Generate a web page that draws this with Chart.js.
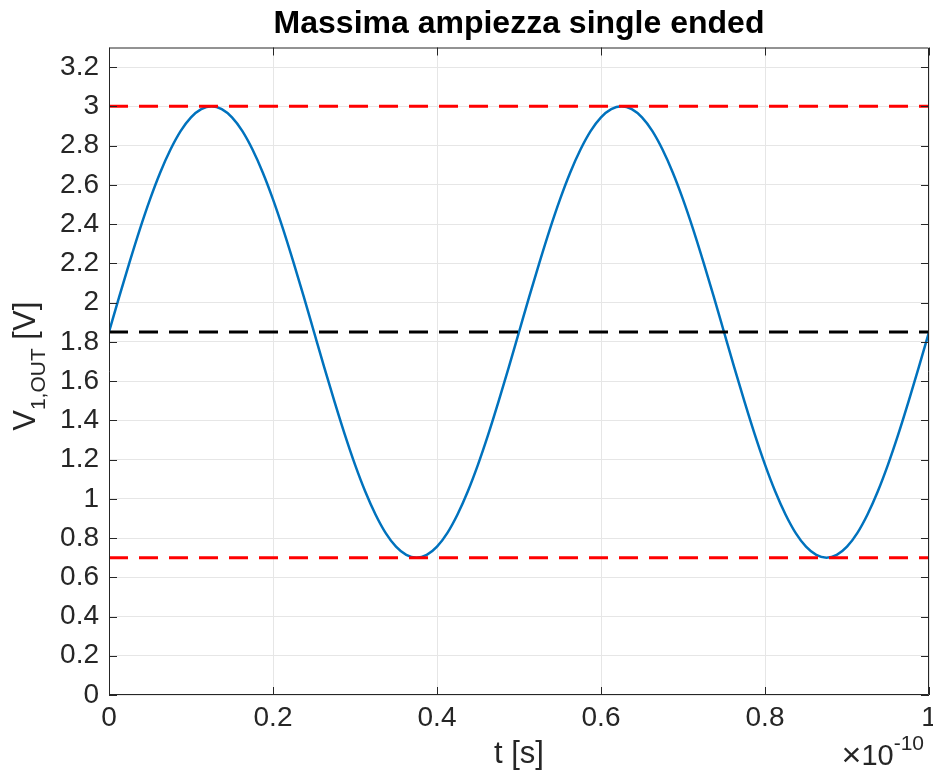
<!DOCTYPE html>
<html>
<head>
<meta charset="utf-8">
<script src="https://cdn.jsdelivr.net/npm/chart.js@4.4.0/dist/chart.umd.min.js"></script>
<style>
  body { margin: 0; background: #fff; }
  canvas { display: block; }
</style>
</head>
<body>
<canvas id="chart_ampiezza" width="933" height="774"></canvas>
<script>
// time in units of 1e-10 s
var t_values = [
  0, 0.0125, 0.025, 0.0375, 0.05, 0.0625, 0.075, 0.0875, 0.1, 0.1125,
  0.125, 0.1375, 0.15, 0.1625, 0.175, 0.1875, 0.2, 0.2125, 0.225, 0.2375,
  0.25, 0.2625, 0.275, 0.2875, 0.3, 0.3125, 0.325, 0.3375, 0.35, 0.3625,
  0.375, 0.3875, 0.4, 0.4125, 0.425, 0.4375, 0.45, 0.4625, 0.475, 0.4875,
  0.5, 0.5125, 0.525, 0.5375, 0.55, 0.5625, 0.575, 0.5875, 0.6, 0.6125,
  0.625, 0.6375, 0.65, 0.6625, 0.675, 0.6875, 0.7, 0.7125, 0.725, 0.7375,
  0.75, 0.7625, 0.775, 0.7875, 0.8, 0.8125, 0.825, 0.8375, 0.85, 0.8625,
  0.875, 0.8875, 0.9, 0.9125, 0.925, 0.9375, 0.95, 0.9625, 0.975, 0.9875,
  1
]

// V1,OUT [V]
var v_out = [
  1.85, 2.03, 2.205, 2.372, 2.526, 2.663, 2.78, 2.875, 2.944, 2.986,
  3.0, 2.986, 2.944, 2.875, 2.78, 2.663, 2.526, 2.372, 2.205, 2.03,
  1.85, 1.67, 1.495, 1.328, 1.174, 1.037, 0.92, 0.825, 0.756, 0.714,
  0.7, 0.714, 0.756, 0.825, 0.92, 1.037, 1.174, 1.328, 1.495, 1.67,
  1.85, 2.03, 2.205, 2.372, 2.526, 2.663, 2.78, 2.875, 2.944, 2.986,
  3.0, 2.986, 2.944, 2.875, 2.78, 2.663, 2.526, 2.372, 2.205, 2.03,
  1.85, 1.67, 1.495, 1.328, 1.174, 1.037, 0.92, 0.825, 0.756, 0.714,
  0.7, 0.714, 0.756, 0.825, 0.92, 1.037, 1.174, 1.328, 1.495, 1.67,
  1.85
]

// horizontal reference levels
var level_max = 3.0
var level_min = 0.7
var level_mid = 1.85
var t_range = [0, 1]

var x_ticks = [0, 0.2, 0.4, 0.6, 0.8, 1]
var y_ticks = [0, 0.2, 0.4, 0.6, 0.8, 1, 1.2, 1.4, 1.6, 1.8, 2, 2.2, 2.4, 2.6, 2.8, 3, 3.2]

var font_family = '"Liberation Sans", Arial, Helvetica, sans-serif'
var colors = {
  blue: '#0072BD',
  red: '#FF0000',
  black: '#000000',
  grid: '#e6e6e6',
  axis: '#262626'
}

function levelLine(value) {
  return t_range.map(function (t) { return { x: t, y: value } })
}

var sine_points = t_values.map(function (t, i) { return { x: t, y: v_out[i] } })

// draws the MATLAB-like box, inner ticks and all the texts
var matlabDecor = {
  id: 'matlabDecor',
  afterDraw: function (chart) {
    var ctx = chart.ctx
    var area = chart.chartArea
    var xs = chart.scales.x
    var ys = chart.scales.y
    var tick_len = 8

    ctx.save()
    ctx.strokeStyle = colors.axis
    ctx.lineWidth = 1
    ctx.beginPath()
    ctx.rect(area.left + 0.5, area.top + 0.5, area.right - area.left - 1, area.bottom - area.top - 1)
    for (var v of x_ticks) {
      var px = Math.round(xs.getPixelForValue(v)) + 0.5
      ctx.moveTo(px, area.bottom); ctx.lineTo(px, area.bottom - tick_len)
      ctx.moveTo(px, area.top); ctx.lineTo(px, area.top + tick_len)
    }
    for (var v of y_ticks) {
      var py = Math.round(ys.getPixelForValue(v)) + 0.5
      ctx.moveTo(area.left, py); ctx.lineTo(area.left + tick_len, py)
      ctx.moveTo(area.right, py); ctx.lineTo(area.right - tick_len, py)
    }
    ctx.stroke()

    // title
    ctx.fillStyle = '#000'
    ctx.textAlign = 'center'
    ctx.textBaseline = 'alphabetic'
    ctx.font = 'bold 32px ' + font_family
    ctx.fillText('Massima ampiezza single ended', (area.left + area.right) / 2, 33)

    // x label
    ctx.fillStyle = colors.axis
    ctx.font = '31px ' + font_family
    ctx.fillText('t [s]', (area.left + area.right) / 2, 763)

    // exponent: big times sign, 10, superscript -10
    ctx.textAlign = 'left'
    ctx.font = '21px ' + font_family
    var sup = '-10'
    var sup_w = ctx.measureText(sup).width
    ctx.font = '29px ' + font_family
    var ten_w = ctx.measureText('10').width
    ctx.font = '34px ' + font_family
    var times_w = ctx.measureText('\u00d7').width
    var x0 = 924 - sup_w - ten_w - times_w
    ctx.fillText('\u00d7', x0, 766)
    ctx.font = '29px ' + font_family
    ctx.fillText('10', x0 + times_w, 765)
    ctx.font = '21px ' + font_family
    ctx.fillText(sup, x0 + times_w + ten_w, 750)

    // y label with subscript
    ctx.translate(35, (area.top + area.bottom) / 2 - 5)
    ctx.rotate(-Math.PI / 2)
    ctx.font = '31px ' + font_family
    var w1 = ctx.measureText('V').width
    var w3 = ctx.measureText(' [V]').width
    ctx.font = '21px ' + font_family
    var w2 = ctx.measureText('1,OUT').width
    var start = -(w1 + w2 + w3) / 2
    ctx.font = '31px ' + font_family
    ctx.fillText('V', start, 0)
    ctx.font = '21px ' + font_family
    ctx.fillText('1,OUT', start + w1, 10)
    ctx.font = '31px ' + font_family
    ctx.fillText(' [V]', start + w1 + w2, 0)
    ctx.restore()
  }
}

var ctx = document.getElementById('chart_ampiezza').getContext('2d')

var chart = new Chart(ctx, {
  type: 'line',
  data: {
    datasets: [{
      data: levelLine(level_max),
      borderColor: colors.red,
      borderWidth: 3,
      borderDash: [19, 11],
      pointRadius: 0,
      order: 0
    }, {
      data: levelLine(level_min),
      borderColor: colors.red,
      borderWidth: 3,
      borderDash: [19, 11],
      pointRadius: 0,
      order: 0
    }, {
      data: levelLine(level_mid),
      borderColor: colors.black,
      borderWidth: 3,
      borderDash: [19, 11],
      pointRadius: 0,
      order: 0
    }, {
      data: sine_points,
      borderColor: colors.blue,
      borderWidth: 2.5,
      pointRadius: 0,
      cubicInterpolationMode: 'monotone',
      order: 1
    }]
  },
  options: {
    responsive: false,
    animation: false,
    layout: {
      padding: { top: 47.5, right: 4, left: 0, bottom: 0 }
    },
    plugins: {
      legend: { display: false },
      tooltip: { enabled: false }
    },
    scales: {
      x: {
        type: 'linear',
        min: 0,
        max: 1,
        afterBuildTicks: function (scale) {
          scale.ticks = x_ticks.map(function (v) { return { value: v } })
        },
        afterFit: function (scale) {
          scale.height = 79
          scale.paddingLeft = 0
          scale.paddingRight = 4
        },
        border: { display: false },
        grid: { color: colors.grid, drawTicks: false },
        ticks: {
          color: colors.axis,
          padding: 6,
          maxRotation: 0,
          autoSkip: false,
          font: { family: font_family, size: 28 },
          callback: function (v) { return String(parseFloat(v.toFixed(1))) }
        }
      },
      y: {
        type: 'linear',
        min: 0,
        max: 3.3,
        afterBuildTicks: function (scale) {
          scale.ticks = y_ticks.map(function (v) { return { value: v } })
        },
        afterFit: function (scale) {
          scale.width = 109
        },
        border: { display: false },
        grid: { color: colors.grid, drawTicks: false },
        ticks: {
          color: colors.axis,
          padding: 10,
          autoSkip: false,
          font: { family: font_family, size: 28 },
          callback: function (v) { return String(parseFloat(v.toFixed(1))) }
        }
      }
    }
  },
  plugins: [matlabDecor]
})
</script>
</body>
</html>
